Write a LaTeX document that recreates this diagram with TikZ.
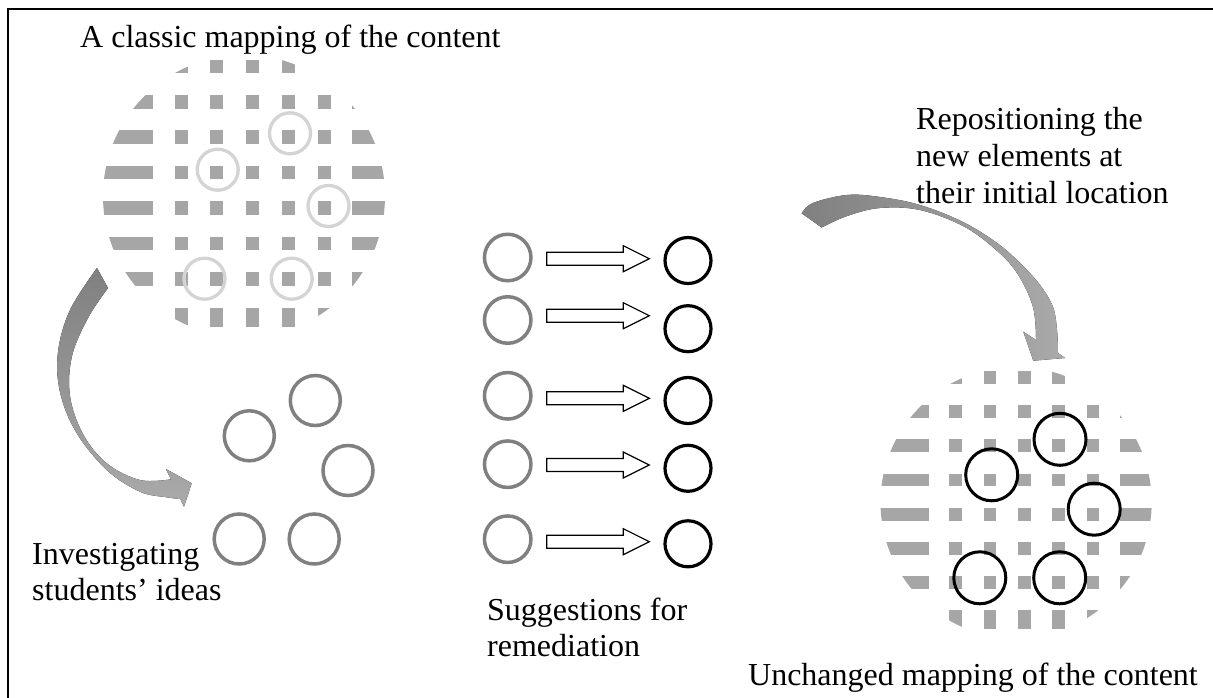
\documentclass[tikz,border=0pt]{standalone}
\usepackage{fontspec}
\setmainfont{Liberation Serif}
\usetikzlibrary{calc}
\definecolor{discgray}{HTML}{A6A6A6}
\definecolor{lightring}{HTML}{D4D4D4}
\definecolor{midgray}{HTML}{808080}
\definecolor{headgray}{HTML}{AAAAAA}
\newcommand\gridDisc[3]{%
 \begin{scope}[shift={(#1,#2)},scale=#3]
 \clip (0,0) circle[radius=141];
 \foreach \ry/\hh in {-129.6/6.75,-94.2/6.75,-58.8/6.75,-23.4/6.75,12/6.75,47.4/6.75,82.8/6.75,121.3/9.8}{
   \fill[discgray] (-150,\ry-\hh) rectangle (-91,\ry+\hh);
   \fill[discgray] (108,\ry-\hh) rectangle (150,\ry+\hh);
   \foreach \cx in {-63,-27.25,8.5,44.25,80}
     \fill[discgray] (\cx-6.5,\ry-\hh) rectangle (\cx+6.5,\ry+\hh);
 }
 \end{scope}}
\newcommand\hollowArrow[2]{%
 \draw[blockarrow] ($(#1)+(0,-6.5)$) -- ($(#2)+(-26,-6.5)$) -- ($(#2)+(-26,-13)$) -- (#2)
   -- ($(#2)+(-26,13)$) -- ($(#2)+(-26,6.5)$) -- ($(#1)+(0,6.5)$) -- cycle;}
\begin{document}
\begin{tikzpicture}[x=1pt,y=-1pt,
  lightc/.style={circle,draw=lightring,line width=3.3pt,minimum size=41pt,inner sep=0pt},
  grayc/.style={circle,draw=midgray,line width=3.5pt,minimum size=46.5pt,inner sep=0pt},
  blackc/.style={circle,draw=black,line width=3.2pt,minimum size=46pt,inner sep=0pt},
  newc/.style={circle,draw=black,line width=3pt,minimum size=52pt,inner sep=0pt},
  stud/.style={circle,draw=midgray,line width=3.5pt,minimum size=50pt,inner sep=0pt},
  lbl/.style={font=\fontsize{32}{36.8}\selectfont,inner sep=0pt,anchor=base west},
  blockarrow/.style={draw=black,line width=1.2pt,fill=white,line join=miter}]
\useasboundingbox (0,0) rectangle (1213,698);
\fill[white] (0,0) rectangle (1213,698);
% frame
\draw[line width=2.3pt] (8,698) -- (8,9) -- (1213,9);

% classic mapping disc
\gridDisc{244}{196}{1}
\node[lightc] (l1) at (290,133.3) {};
\node[lightc] (l2) at (217.7,169.7) {};
\node[lightc] (l3) at (328.5,206) {};
\node[lightc] (l4) at (204.5,278.7) {};
\node[lightc] (l5) at (291.7,278.7) {};

% left curved arrow
\fill[top color=midgray,bottom color=headgray]
  (97,268) -- plot[smooth,tension=0.6] coordinates {(97,268) (70,310) (58,352) (60,392) (76,432) (106.7,470) (140,491.7) (166.7,497.3) (180.3,499)}
  -- (184,506.7) -- (191.7,483.3) -- (166,469)
  -- plot[smooth,tension=0.6] coordinates {(170.9,479.3) (140,480) (106.7,463.3) (83,434) (70,396) (72,356) (88,318) (108,288)}
  -- cycle;

% students' ideas
\node[stud] (s1) at (249.3,435.8) {};
\node[stud] (s2) at (315.3,400.5) {};
\node[stud] (s3) at (348,470.5) {};
\node[stud] (s4) at (239.2,539) {};
\node[stud] (s5) at (314.2,539) {};

% remediation column
\node[grayc] (g1) at (507.7,257.5) {};
\node[grayc] (g2) at (507.7,320) {};
\node[grayc] (g3) at (507.7,395.8) {};
\node[grayc] (g4) at (507.7,464.2) {};
\node[grayc] (g5) at (507.7,539.2) {};
\node[blackc] (b1) at (688,260.5) {};
\node[blackc] (b2) at (688,328.7) {};
\node[blackc] (b3) at (688,400.5) {};
\node[blackc] (b4) at (688,468.3) {};
\node[blackc] (b5) at (688,543.8) {};
\coordinate (as1) at (546.7,258.7); \coordinate (ae1) at (649.3,258.7);
\coordinate (as2) at (546.7,315.7); \coordinate (ae2) at (649.3,315.7);
\coordinate (as3) at (546.7,398.3); \coordinate (ae3) at (649.3,398.3);
\coordinate (as4) at (546.7,465);   \coordinate (ae4) at (649.3,465);
\coordinate (as5) at (546.7,541.7); \coordinate (ae5) at (649.3,541.7);
\hollowArrow{as1}{ae1}
\hollowArrow{as2}{ae2}
\hollowArrow{as3}{ae3}
\hollowArrow{as4}{ae4}
\hollowArrow{as5}{ae5}

% right curved arrow
\fill[left color=midgray,right color=headgray]
  (801.7,213.3) -- plot[smooth,tension=0.6] coordinates {(801.7,213.3) (813,203) (847,195) (880,197) (920,205) (963,222) (997,243) (1020,263) (1040,285) (1053,307) (1057,330) (1058,353)}
  -- (1065,358) -- (1033.3,360.7) -- (1023.3,331.7)
  -- plot[smooth,tension=0.6] coordinates {(1036,340) (1033,307) (1017,273) (995,249) (963,226) (920,210) (880,208) (847,216) (821.7,227.5)}
  -- cycle;

% unchanged mapping disc
\gridDisc{1016.1}{502.5}{0.9615}
\node[newc] (n1) at (1060,439.3) {};
\node[newc] (n2) at (991.7,474.8) {};
\node[newc] (n3) at (1094.2,509.2) {};
\node[newc] (n4) at (979.8,577.8) {};
\node[newc] (n5) at (1059.7,577.8) {};

% labels
\node[lbl] (t1) at (80,48) {A classic mapping of the content};
\node[lbl] (t2a) at (916,130) {Repositioning the};
\node[lbl] (t2b) at (916,166.8) {new elements at};
\node[lbl] (t2c) at (916,203.6) {their initial location};
\node[lbl] (t3a) at (32,564) {Investigating};
\node[lbl] (t3b) at (32,600.8) {students’ ideas};
\node[lbl] (t4a) at (487,620) {Suggestions for};
\node[lbl] (t4b) at (487,656.8) {remediation};
\node[lbl,anchor=base east] (t5) at (1198,685) {Unchanged mapping of the content};
\end{tikzpicture}
\end{document}
